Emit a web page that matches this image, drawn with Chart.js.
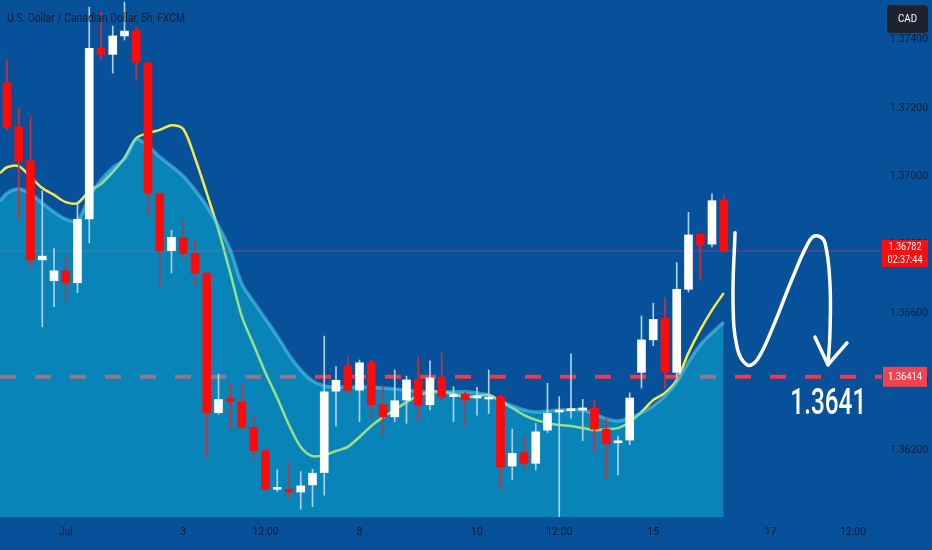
<!DOCTYPE html>
<html>
<head>
<meta charset="utf-8">
<script src="https://cdn.jsdelivr.net/npm/chart.js@4.4.1/dist/chart.umd.min.js"></script>
<style>
  html, body { margin: 0; padding: 0; background: #06519a; }
  canvas { display: block; }
</style>
</head>
<body>
<canvas id="chart" width="932" height="550"></canvas>
<script>
// USD/CAD 5h candles (one entry per bar)
const opens = [1.37274, 1.37145, 1.37046, 1.36756, 1.36695, 1.36724, 1.36689, 1.36876, 1.37375, 1.37357,
  1.37411, 1.37426, 1.37332, 1.36951, 1.36783, 1.36822, 1.36775, 1.36717, 1.36309, 1.36350,
  1.36340, 1.36266, 1.36198, 1.36085, 1.36085, 1.36077, 1.36098, 1.36134, 1.36372, 1.36446,
  1.36375, 1.36456, 1.36332, 1.36297, 1.36346, 1.36405, 1.36332, 1.36413, 1.36356, 1.36363,
  1.36352, 1.36349, 1.36356, 1.36153, 1.36192, 1.36161, 1.36258, 1.36311, 1.36315, 1.36317,
  1.36322, 1.36261, 1.36221, 1.36229, 1.36427, 1.36522, 1.36585, 1.36427, 1.36670, 1.36831,
  1.36802, 1.36931];
const highs = [1.37340, 1.37200, 1.37175, 1.36958, 1.36789, 1.36770, 1.36923, 1.37495, 1.37481, 1.37440,
  1.37510, 1.37434, 1.37335, 1.36952, 1.36843, 1.36873, 1.36814, 1.36718, 1.36422, 1.36393,
  1.36393, 1.36302, 1.36200, 1.36142, 1.36166, 1.36137, 1.36144, 1.36533, 1.36444, 1.36473,
  1.36463, 1.36463, 1.36385, 1.36434, 1.36416, 1.36471, 1.36461, 1.36484, 1.36385, 1.36370,
  1.36383, 1.36434, 1.36361, 1.36261, 1.36239, 1.36278, 1.36395, 1.36356, 1.36481, 1.36348,
  1.36346, 1.36293, 1.36241, 1.36367, 1.36592, 1.36629, 1.36646, 1.36748, 1.36895, 1.36832,
  1.36949, 1.36946];
const lows = [1.37136, 1.36873, 1.36736, 1.36560, 1.36619, 1.36636, 1.36660, 1.36806, 1.37340, 1.37302,
  1.37399, 1.37282, 1.36887, 1.36677, 1.36718, 1.36758, 1.36682, 1.36180, 1.36305, 1.36261,
  1.36258, 1.36171, 1.36083, 1.36078, 1.36058, 1.36027, 1.36034, 1.36068, 1.36270, 1.36361,
  1.36283, 1.36288, 1.36241, 1.36283, 1.36278, 1.36286, 1.36317, 1.36346, 1.36283, 1.36268,
  1.36302, 1.36307, 1.36085, 1.36114, 1.36142, 1.36142, 1.36251, 1.36000, 1.36293, 1.36227,
  1.36192, 1.36117, 1.36127, 1.36215, 1.36381, 1.36505, 1.36381, 1.36411, 1.36662, 1.36697,
  1.36794, 1.36780];
const closes = [1.37144, 1.37046, 1.36756, 1.36767, 1.36724, 1.36689, 1.36875, 1.37375, 1.37357, 1.37411,
  1.37425, 1.37334, 1.36951, 1.36783, 1.36822, 1.36775, 1.36717, 1.36309, 1.36348, 1.36342,
  1.36266, 1.36198, 1.36085, 1.36089, 1.36077, 1.36095, 1.36132, 1.36370, 1.36404, 1.36375,
  1.36455, 1.36332, 1.36297, 1.36344, 1.36405, 1.36332, 1.36411, 1.36354, 1.36361, 1.36346,
  1.36354, 1.36354, 1.36151, 1.36190, 1.36161, 1.36253, 1.36307, 1.36315, 1.36319, 1.36321,
  1.36261, 1.36220, 1.36225, 1.36352, 1.36522, 1.36582, 1.36427, 1.36670, 1.36829, 1.36799,
  1.36929, 1.36782];

// moving averages (yellow line and the filled one)
const yellowMa = [1.37027, 1.37030, 1.36998, 1.36966, 1.36946, 1.36925, 1.36922, 1.36957, 1.36978, 1.37013,
  1.37054, 1.37112, 1.37127, 1.37136, 1.37150, 1.37139, 1.37054, 1.36951, 1.36843, 1.36718,
  1.36589, 1.36507, 1.36425, 1.36352, 1.36273, 1.36209, 1.36182, 1.36185, 1.36197, 1.36209,
  1.36238, 1.36270, 1.36296, 1.36317, 1.36340, 1.36358, 1.36370, 1.36370, 1.36364, 1.36355,
  1.36358, 1.36361, 1.36343, 1.36323, 1.36302, 1.36288, 1.36279, 1.36273, 1.36270, 1.36264,
  1.36258, 1.36261, 1.36264, 1.36282, 1.36311, 1.36346, 1.36367, 1.36405, 1.36484, 1.36551,
  1.36609, 1.36659];
const areaMa = [1.36951, 1.36963, 1.36949, 1.36922, 1.36896, 1.36875, 1.36870, 1.36940, 1.36989, 1.37025,
  1.37051, 1.37109, 1.37089, 1.37057, 1.37030, 1.37001, 1.36960, 1.36913, 1.36855, 1.36785,
  1.36685, 1.36633, 1.36583, 1.36533, 1.36478, 1.36434, 1.36402, 1.36387, 1.36384, 1.36384,
  1.36384, 1.36384, 1.36381, 1.36378, 1.36375, 1.36372, 1.36370, 1.36370, 1.36370, 1.36370,
  1.36367, 1.36361, 1.36343, 1.36329, 1.36317, 1.36311, 1.36314, 1.36317, 1.36317, 1.36317,
  1.36305, 1.36291, 1.36285, 1.36294, 1.36308, 1.36329, 1.36358, 1.36399, 1.36457, 1.36507,
  1.36542, 1.36574];
// values where both averages leave the left edge of the chart
const yellowEdge = 1.37010;
const areaEdge = 1.36928;

const xTickPos = [5, 15, 22, 30, 40, 47, 55, 65, 72];
const xTickLabels = ["Jul", "3", "12:00", "8", "10", "12:00", "15", "17", "12:00"];
const priceTicks = [1.362, 1.364, 1.366, 1.368, 1.370, 1.372, 1.374];

const lastPrice = 1.36782;
const lastTimer = "02:37:44";
const targetLevel = 1.36414;
const targetText = "1.3641";
const targetTextAt = [69.9, 1.36331];
const title = "U.S. Dollar / Canadian Dollar, 5h, FXCM";

// hand drawn arrow (bar index, price)
const arrowIdx = [61.96, 61.79, 62.13, 62.98, 63.83, 65.19, 66.89, 68.34, 69.02, 69.62, 70.04, 70.04, 69.87];
const arrowPrice = [1.36835, 1.36639, 1.36501, 1.36449, 1.36463, 1.36560, 1.36706, 1.36814, 1.36826, 1.36805, 1.36688, 1.36542, 1.36449];
const headIdx = [68.77, 69.87, 71.49];
const headPrice = [1.36530, 1.36449, 1.36513];

const xMin = -0.596, xMax = 74.47;
const yMin = 1.36004, yMax = 1.37516;

const isUp = closes.map((c, i) => c >= opens[i]);

function fitText(ctx, text, x, y, width, font, color, align) {
  ctx.save();
  ctx.font = font;
  ctx.fillStyle = color;
  ctx.textBaseline = "middle";
  ctx.textAlign = align;
  const sx = width / ctx.measureText(text).width;
  ctx.translate(x, y);
  ctx.scale(sx, 1);
  ctx.fillText(text, 0, 0);
  ctx.restore();
}

function noPad(s) {
  s.paddingTop = 0; s.paddingBottom = 0;
  s.paddingLeft = 0; s.paddingRight = 0;
}

const overlay = {
  id: "overlay",
  afterDraw(chart) {
    const { ctx, chartArea } = chart;
    const xs = chart.scales.x, ys = chart.scales.y;
    fitText(ctx, title, 7, 19, 178, "13px Roboto", "#141c2c", "left");
    fitText(ctx, targetText, xs.getPixelForValue(targetTextAt[0]), ys.getPixelForValue(targetTextAt[1]),
      76, "500 37px Roboto", "#ffffff", "center");

    const ly = ys.getPixelForValue(targetLevel);
    ctx.fillStyle = "#ef4351";
    ctx.fillRect(chartArea.right + 1, ly - 10, 44, 20);
    fitText(ctx, targetLevel.toFixed(5), chartArea.right + 23, ly, 34, "11px Roboto", "#ffffff", "center");

    const py = ys.getPixelForValue(lastPrice);
    ctx.fillStyle = "#f70f12";
    ctx.fillRect(chartArea.right, py - 11, 46, 27);
    fitText(ctx, lastPrice.toFixed(5), chartArea.right + 23, py - 4, 33, "11px Roboto", "#ffffff", "center");
    fitText(ctx, lastTimer, chartArea.right + 23, py + 9, 35, "11px Roboto", "#ffffff", "center");

    ctx.fillStyle = "#1e222d";
    ctx.beginPath();
    ctx.roundRect(887, 5, 41, 28, 4);
    ctx.fill();
    fitText(ctx, "CAD", 907.5, 19, 19, "11px Roboto", "#ffffff", "center");
  }
};

const lineBase = { type: "line", pointRadius: 0, fill: false };

const config = {
  type: "bar",
  data: {
    datasets: [
      {
        ...lineBase,
        data: arrowIdx.map((v, i) => ({ x: v, y: arrowPrice[i] })),
        borderColor: "#ffffff", borderWidth: 3.5, tension: 0.4,
        borderCapStyle: "round", order: 0
      },
      {
        ...lineBase,
        data: headIdx.map((v, i) => ({ x: v, y: headPrice[i] })),
        borderColor: "#ffffff", borderWidth: 3.5, tension: 0,
        borderCapStyle: "round", borderJoinStyle: "round", order: 0
      },
      {
        type: "bar",
        data: opens.map((o, i) => ({ x: i, y: [o, closes[i]] })),
        backgroundColor: isUp.map(u => u ? "#ffffff" : "#ff0a0a"),
        barThickness: 8, minBarLength: 2, grouped: false, order: 1
      },
      {
        type: "bar",
        data: lows.map((l, i) => ({ x: i, y: [l, highs[i]] })),
        backgroundColor: isUp.map(u => u ? "#a9d2f2" : "#c8303e"),
        barThickness: 1, grouped: false, order: 2
      },
      {
        ...lineBase,
        data: [{ x: xMin, y: areaEdge }, ...areaMa.map((v, i) => ({ x: i, y: v }))],
        fill: "start",
        backgroundColor: "rgba(14,211,229,0.4)",
        borderColor: "rgba(90,205,240,0.55)", borderWidth: 3.5, tension: 0.3, order: 3
      },
      {
        ...lineBase,
        data: [{ x: xMin, y: targetLevel }, { x: xMax, y: targetLevel }],
        borderColor: "rgb(240,58,72)", borderWidth: 4, borderDash: [16, 19], order: 4
      },
      {
        ...lineBase,
        data: [{ x: xMin, y: lastPrice }, { x: xMax, y: lastPrice }],
        borderColor: "rgba(230,70,90,0.5)", borderWidth: 1, order: 5
      },
      {
        ...lineBase,
        data: [{ x: xMin, y: yellowEdge }, ...yellowMa.map((v, i) => ({ x: i, y: v }))],
        borderColor: "#f4e84a", borderWidth: 2.5, tension: 0.3, order: 6
      }
    ]
  },
  options: {
    responsive: false,
    animation: false,
    layout: { padding: 0 },
    plugins: { legend: { display: false }, tooltip: { enabled: false } },
    scales: {
      x: {
        type: "linear", min: xMin, max: xMax, offset: false,
        grid: { display: false, drawTicks: false }, border: { display: false },
        afterFit: s => { s.height = 33; noPad(s); },
        afterBuildTicks: s => { s.ticks = xTickPos.map(v => ({ value: v })); },
        ticks: {
          autoSkip: false, maxRotation: 0, padding: 9, color: "#101a2c",
          font: { family: "Roboto", size: 10.5 },
          callback: (v, i) => xTickLabels[i]
        }
      },
      y: {
        position: "right", min: yMin, max: yMax,
        grid: { display: false, drawTicks: false }, border: { display: false },
        afterFit: s => { s.width = 50; noPad(s); },
        afterBuildTicks: s => { s.ticks = priceTicks.map(v => ({ value: v })); },
        ticks: {
          padding: 8, color: "#101a2c",
          font: { family: "Roboto", size: 10.5 },
          callback: v => v.toFixed(5)
        }
      }
    }
  },
  plugins: [overlay]
};

new Chart(document.getElementById("chart"), config);
</script>
</body>
</html>
